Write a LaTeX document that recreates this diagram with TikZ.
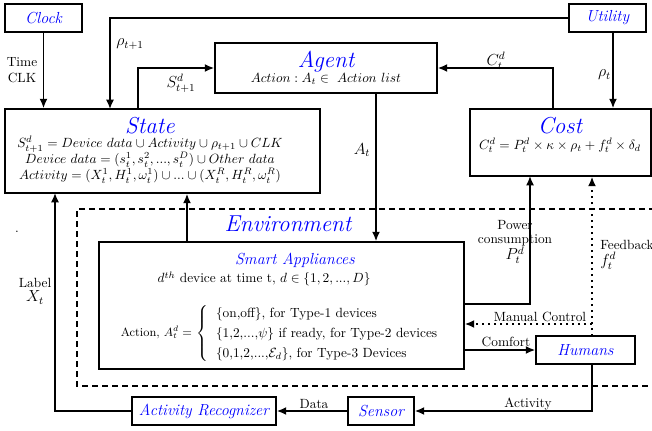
\documentclass[tikz,border=0pt]{standalone}
\usepackage{amssymb}
\usetikzlibrary{arrows.meta}

\begin{document}
\begin{tikzpicture}[x=0.75pt,y=-0.75pt,line width=1.2pt,>={Latex[length=7pt,width=6pt]}]
\tikzstyle{box}=[draw,rectangle,inner sep=0pt]
\tikzstyle{ttl}=[text=blue,font=\large\itshape]
\tikzstyle{big}=[text=blue,font=\LARGE\itshape]
\tikzstyle{dots}=[dash pattern=on 1.2pt off 3.3pt]
\useasboundingbox (0,0) rectangle (652,431);
% boxes
\node[box,ttl,minimum width=57.75pt,minimum height=21pt] (clock) at (43.5,18) {Clock};
\node[box,ttl,minimum width=57.75pt,minimum height=21pt] (utility) at (607.5,18) {Utility};
\node[box,minimum width=166.5pt,minimum height=37.5pt,align=center] (agent) at (326,68) {{\LARGE\itshape\textcolor{blue}{Agent}}\\[-1pt] $Action: A_t \in\ Action\ list$};
\node[box,minimum width=236.25pt,minimum height=63pt] (state) at (162.5,151) {};
\node[align=center] (statetxt) at (150,150) {{\LARGE\itshape\textcolor{blue}{State}}\\[-1pt]
  $S_{t+1}^{d} = Device\ data \cup Activity \cup \rho_{t+1} \cup CLK$\\
  $Device\ data = (s_t^1, s_t^2, ..., s_t^D) \cup Other\ data$\\
  $Activity = (X_t^1, H_t^1, \omega_t^1) \cup ... \cup (X_t^R, H_t^R, \omega_t^R)$};
\node[box,minimum width=135.75pt,minimum height=50.25pt] (cost) at (560.5,142.5) {};
\node[align=center] (costtxt) at (560,135) {{\LARGE\itshape\textcolor{blue}{Cost}}\\[0pt] $C_t^d = P_t^d \times \kappa \times \rho_t + f_t^d \times \delta_d$};
\node[big] (envtxt) at (288,224) {Environment};
\node[box,minimum width=273.75pt,minimum height=95.25pt] (sa) at (281.5,305.5) {};
\node[ttl] (satitle) at (295,260) {Smart Appliances};
\node (sadev) at (264,279) {$d^{th}$ device at time t, $d \in \{1,2,...,D\}$};
\node[anchor=west,inner sep=0pt] (saact) at (120,333) {\small Action, $A_t^d = $ \normalsize $\left\{\renewcommand{\arraystretch}{1.25}\begin{tabular}{l}
  \{on,off\}, for Type-1 devices\\
  \{1,2,...,$\psi$\} if ready, for Type-2 devices\\
  \{0,1,2,...,$\mathcal{E}_d$\}, for Type-3 Devices
  \end{tabular}\right.$};
\node[box,ttl,minimum width=74.25pt,minimum height=21pt] (humans) at (585.5,350) {Humans};
\node[box,ttl,minimum width=108pt,minimum height=21pt] (ar) at (204,411) {Activity Recognizer};
\node[box,ttl,minimum width=49.5pt,minimum height=21pt] (sensor) at (381,411) {Sensor};
\node[inner sep=0pt] (dot) at (17,232) {.};
% environment
\draw[dash pattern=on 4.5pt off 3pt] (655,209) -- (77,209) -- (77,386) -- (655,386);
% points on the boxes
\coordinate (rhoin) at (110,109);
\coordinate (sout) at (138,109);
\coordinate (cout) at (553,109);
\coordinate (uout) at (613,32);
\coordinate (aout) at (376,93);
\coordinate (saup) at (187,242);
\coordinate (sapow) at (464,304);
\coordinate (powin) at (530,176);
\coordinate (fb) at (592,336);
\coordinate (mc) at (592,324);
\coordinate (hact) at (592,364);
\coordinate (lblin) at (55,193);
% connectors
\draw[->] (clock) -- (clock |- state.north);
\draw[->] (utility.west) -| (rhoin);
\draw[->] (uout) -- (uout |- cost.north);
\draw[->] (sout) |- (agent.west);
\draw[->] (cout) |- (agent.east);
\draw[->] (aout) -- (aout |- sa.north);
\draw[->] (saup) -- (saup |- state.south);
\draw[->] (sapow) -| (powin);
\draw[->,dots] (fb) -- (fb |- cost.south);
\draw[->,dots] (mc) -- (mc -| sa.east);
\draw[->] (sa.east |- humans.west) -- (humans.west);
\draw[->] (hact) |- (sensor.east);
\draw[->] (sensor) -- (ar);
\draw[->] (ar.west) -| (lblin);
% labels
\node[align=center] (tclk) at (22,70) {Time\\CLK};
\node (rho1) at (130,44) {\large $\rho_{t+1}$};
\node (sd) at (181,83) {\large $S_{t+1}^{d}$};
\node (cd) at (496,61) {\large $C_t^d$};
\node (rho) at (604.5,75) {\large $\rho_t$};
\node (at) at (362,150) {\large $A_t$};
\node[align=center] (pow) at (515,242) {Power\\[-1pt]consumption\\[0pt]{\large $P_t^d$}};
\node[align=left,anchor=west] (feed) at (595,255) {Feedback\\{\large $f_t^d$}};
\node (man) at (540,317) {Manual Control};
\node (comf) at (506,342) {Comfort};
\node (act) at (528,404) {Activity};
\node (data) at (314,404) {Data};
\node[align=center] (lbl) at (35,291) {Label\\[-1pt]{\large $X_t$}};
\end{tikzpicture}
\end{document}
